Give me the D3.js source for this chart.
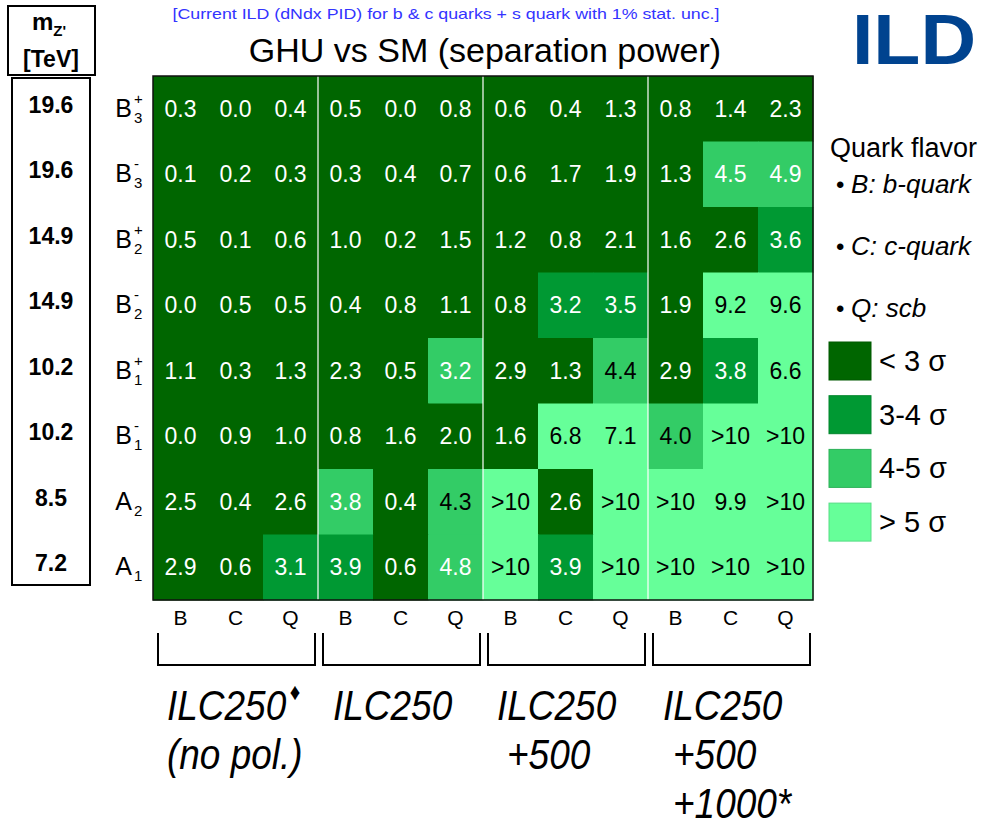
<!DOCTYPE html>
<html>
<head>
<meta charset="utf-8">
<script src="https://cdn.jsdelivr.net/npm/d3@7"></script>
<style>
  html, body { margin: 0; padding: 0; background: #fff; }
  svg { display: block; font-family: "Liberation Sans", Arial, Helvetica, sans-serif; }
</style>
</head>
<body>
<svg id="chart" width="987" height="829"></svg>
<script>
// ---------- data ----------
const rowBase = ["B", "B", "B", "B", "B", "B", "A", "A"];
const rowSup  = ["+", "-", "+", "-", "+", "-", "", ""];
const rowSub  = ["3", "3", "2", "2", "1", "1", "2", "1"];
const masses  = ["19.6", "19.6", "14.9", "14.9", "10.2", "10.2", "8.5", "7.2"];
const flavors = ["B", "C", "Q"];
const scenarios = ["ILC250 (no pol.)", "ILC250", "ILC250+500", "ILC250+500+1000"];
const scenarioLines = [["ILC250", "(no pol.)"], ["ILC250"], ["ILC250", "+500"], ["ILC250", "+500", "+1000*"]];
const values = [
  ["0.3","0.0","0.4", "0.5","0.0","0.8", "0.6","0.4","1.3", "0.8","1.4","2.3"],
  ["0.1","0.2","0.3", "0.3","0.4","0.7", "0.6","1.7","1.9", "1.3","4.5","4.9"],
  ["0.5","0.1","0.6", "1.0","0.2","1.5", "1.2","0.8","2.1", "1.6","2.6","3.6"],
  ["0.0","0.5","0.5", "0.4","0.8","1.1", "0.8","3.2","3.5", "1.9","9.2","9.6"],
  ["1.1","0.3","1.3", "2.3","0.5","3.2", "2.9","1.3","4.4", "2.9","3.8","6.6"],
  ["0.0","0.9","1.0", "0.8","1.6","2.0", "1.6","6.8","7.1", "4.0",">10",">10"],
  ["2.5","0.4","2.6", "3.8","0.4","4.3", ">10","2.6",">10", ">10","9.9",">10"],
  ["2.9","0.6","3.1", "3.9","0.6","4.8", ">10","3.9",">10", ">10",">10",">10"]
];
// significance class shown by the cell colour: 0 "<3σ", 1 "3-4σ", 2 "4-5σ", 3 ">5σ"
const classes = [
  [0,0,0, 0,0,0, 0,0,0, 0,0,0],
  [0,0,0, 0,0,0, 0,0,0, 0,2,2],
  [0,0,0, 0,0,0, 0,0,0, 0,0,1],
  [0,0,0, 0,0,0, 0,1,1, 0,3,3],
  [0,0,0, 0,0,2, 0,0,2, 0,1,3],
  [0,0,0, 0,0,0, 0,3,3, 2,3,3],
  [0,0,0, 2,0,2, 3,0,3, 3,3,3],
  [0,0,1, 1,0,2, 3,1,3, 3,3,3]
];
const legendLabels = ["< 3 σ", "3-4 σ", "4-5 σ", "> 5 σ"];
const flavorNotes = [["B:", " b-quark"], ["C:", " c-quark"], ["Q:", " scb"]];
const colours = ["#006600", "#009933", "#33cc66", "#66ff99"];

// ---------- layout ----------
const svg = d3.select("#chart");
const gridL = 153, gridR = 813, gridT = 76, gridB = 600;
const nCols = flavors.length * scenarios.length;
const colKeys = d3.range(nCols);
const x = d3.scaleBand().domain(colKeys).range([gridL, gridR]);
const y = d3.scaleBand().domain(d3.range(rowBase.length)).range([gridT, gridB]);
const gx = d3.scaleBand().domain(d3.range(scenarios.length)).range([gridL, gridR]);
const colour = d3.scaleOrdinal().domain([0, 1, 2, 3]).range(colours);

// blue subtitle
svg.append("text")
  .attr("x", 446).attr("y", 19)
  .attr("text-anchor", "middle")
  .attr("fill", "#3333ff")
  .attr("font-size", 15)
  .attr("textLength", 547).attr("lengthAdjust", "spacingAndGlyphs")
  .text("[Current ILD (dNdx PID) for b & c quarks + s quark with 1% stat. unc.]");

// title
svg.append("text")
  .attr("x", 485).attr("y", 62)
  .attr("text-anchor", "middle")
  .attr("font-size", 34)
  .attr("fill", "#000")
  .text("GHU vs SM (separation power)");

// ILD logo
svg.append("text")
  .attr("transform", "translate(976,64) scale(1.1,1)")
  .attr("text-anchor", "end")
  .attr("font-size", 70)
  .attr("font-weight", "bold")
  .attr("fill", "#00438f")
  .text("ILD");

// ---------- cells ----------
const cells = [];
values.forEach((row, r) => row.forEach((v, c) => cells.push({ r, c, v, k: classes[r][c] })));

const cellG = svg.append("g");
cellG.selectAll("rect").data(cells).join("rect")
  .attr("x", d => x(d.c)).attr("y", d => y(d.r))
  .attr("width", x.bandwidth() + 0.5).attr("height", y.bandwidth() + 0.5)
  .attr("fill", d => colour(d.k));

// group separators (white)
svg.append("g").selectAll("line").data(d3.range(1, scenarios.length)).join("line")
  .attr("x1", d => gx(d)).attr("x2", d => gx(d))
  .attr("y1", gridT).attr("y2", gridB)
  .attr("stroke", "#ffffff").attr("stroke-width", 1.2);

// frame
svg.append("rect")
  .attr("x", gridL).attr("y", gridT)
  .attr("width", gridR - gridL).attr("height", gridB - gridT)
  .attr("fill", "none").attr("stroke", "#111").attr("stroke-width", 1.5);

// numbers
function darkText(d) {
  const n = d.v.startsWith(">") ? 99 : +d.v;
  return d.k >= 2 && n >= 4 && !(n >= 4.5 && n < 5);
}
cellG.selectAll("text").data(cells).join("text")
  .attr("x", d => x(d.c) + x.bandwidth() / 2)
  .attr("y", d => y(d.r) + y.bandwidth() / 2 + 8)
  .attr("text-anchor", "middle")
  .attr("font-size", 23)
  .attr("fill", d => darkText(d) ? "#000" : "#fff")
  .text(d => d.v);

// ---------- row labels ----------
const rowG = svg.append("g").selectAll("g").data(rowBase).join("g")
  .attr("transform", (d, i) => `translate(0,${y(i) + y.bandwidth() / 2})`);
rowG.append("text")
  .attr("x", 132).attr("y", 8)
  .attr("text-anchor", "end")
  .attr("font-size", 25)
  .text(d => d);
rowG.append("text")
  .attr("x", 134).attr("y", -5)
  .attr("font-size", 15)
  .text((d, i) => rowSup[i]);
rowG.append("text")
  .attr("x", 134).attr("y", 14)
  .attr("font-size", 15)
  .text((d, i) => rowSub[i]);

// ---------- mass box ----------
svg.append("rect")
  .attr("x", 8).attr("y", 6).attr("width", 87).attr("height", 69)
  .attr("fill", "none").attr("stroke", "#000").attr("stroke-width", 2);
const mz = svg.append("text").attr("x", 49).attr("y", 30)
  .attr("text-anchor", "middle").attr("font-weight", "bold").attr("font-size", 24);
mz.append("tspan").text("m");
mz.append("tspan").attr("font-size", 15).attr("dy", 6).text("Z'");
svg.append("text")
  .attr("x", 51).attr("y", 67)
  .attr("text-anchor", "middle").attr("font-weight", "bold").attr("font-size", 23)
  .text("[TeV]");

svg.append("rect")
  .attr("x", 12).attr("y", 78).attr("width", 78).attr("height", 507)
  .attr("fill", "none").attr("stroke", "#000").attr("stroke-width", 2);
svg.append("g").selectAll("text").data(masses).join("text")
  .attr("x", 51)
  .attr("y", (d, i) => y(i) + y.bandwidth() / 2 + 4)
  .attr("text-anchor", "middle")
  .attr("font-weight", "bold").attr("font-size", 23)
  .text(d => d);

// ---------- column labels ----------
svg.append("g").selectAll("text").data(colKeys).join("text")
  .attr("x", d => x(d) + x.bandwidth() / 2)
  .attr("y", 625)
  .attr("text-anchor", "middle")
  .attr("font-size", 21)
  .text(d => flavors[d % flavors.length]);

// brackets
svg.append("g").selectAll("path").data(d3.range(scenarios.length)).join("path")
  .attr("d", d => {
    const a = gx(d) + 5, b = gx(d) + gx.bandwidth() - 3;
    return `M${a},633V665H${b}V633`;
  })
  .attr("fill", "none").attr("stroke", "#000").attr("stroke-width", 2);

// scenario labels
const scenOffsets = [14, 15, 14, 15];
const labG = svg.append("g").selectAll("g").data(scenarioLines).join("g")
  .attr("transform", (d, i) => `translate(${gx(i) + scenOffsets[i]},0)`);
labG.each(function (lines, gi) {
  const g = d3.select(this);
  lines.forEach((line, li) => {
    const indent = (li > 0 && gi >= 2) ? 10 : 0;
    const t = g.append("text")
      .attr("transform", `translate(${indent},${720 + li * 49}) scale(0.86,1)`)
      .attr("font-size", 43)
      .attr("font-style", "italic")
      .text(line);
    if (gi === 0 && li === 0) {
      t.append("tspan").attr("font-size", 24).attr("dy", -20).attr("dx", 4).text("♦");
    }
  });
});

// ---------- legend ----------
svg.append("text").attr("x", 830).attr("y", 157).attr("font-size", 27).text("Quark flavor");
const notes = svg.append("g").selectAll("text").data(flavorNotes).join("text")
  .attr("x", 836)
  .attr("y", (d, i) => 193 + i * 62)
  .attr("font-size", 26);
notes.append("tspan").attr("font-size", 24).text("• ");
notes.append("tspan").attr("font-style", "italic").text(d => d[0] + d[1]);

const leg = svg.append("g").selectAll("g").data(legendLabels).join("g")
  .attr("transform", (d, i) => `translate(829,${342 + i * 53.7})`);
leg.append("rect")
  .attr("width", 42).attr("height", 38)
  .attr("fill", (d, i) => colours[i])
  .attr("stroke", (d, i) => d3.color(colours[i]).darker(0.4)).attr("stroke-width", 1);
leg.append("text")
  .attr("x", 50).attr("y", 29)
  .attr("font-size", 29)
  .text(d => d);
</script>
</body>
</html>
